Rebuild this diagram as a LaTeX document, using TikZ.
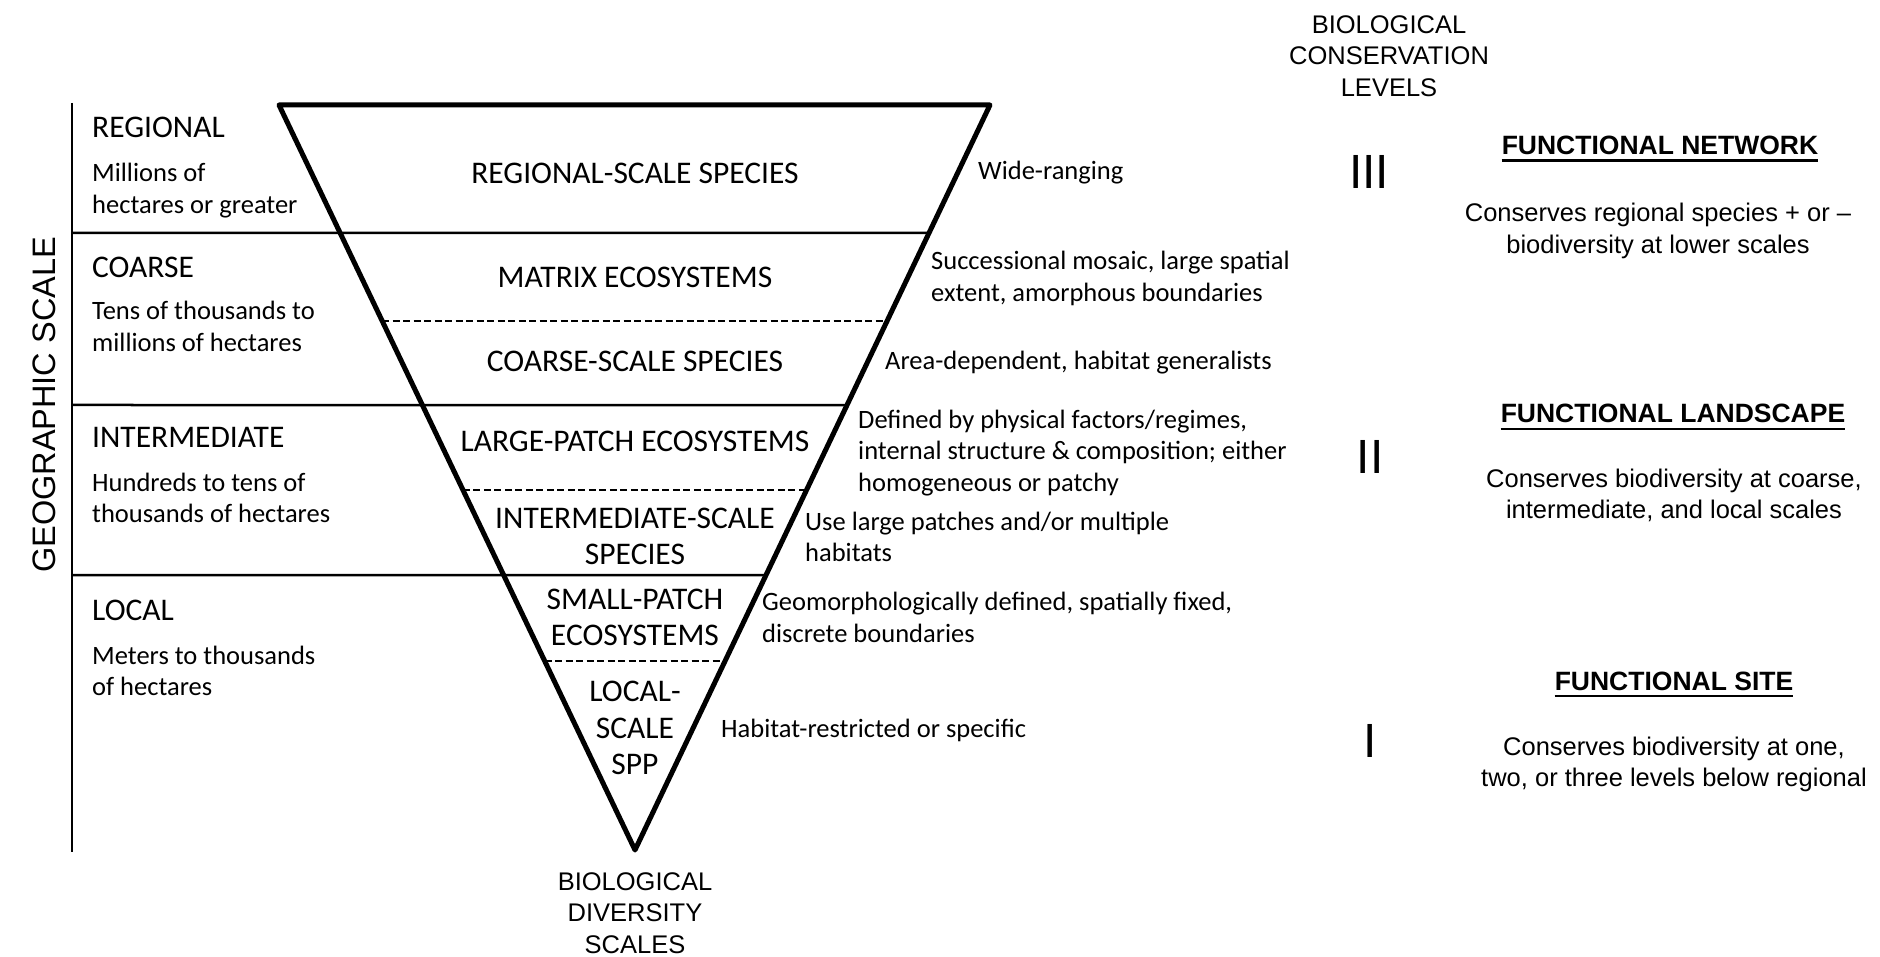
\documentclass[tikz,border=0pt]{standalone}
\usepackage{fontspec}
\setmainfont{Carlito}
\newfontfamily\arialfont{Liberation Sans}
\usetikzlibrary{calc,positioning}

\begin{document}
\begin{tikzpicture}[x=1pt, y=-1pt,
    head/.style = {font=\fontsize{31.5}{36.5}\selectfont, inner sep=0, anchor=base west},
    sub/.style = {font=\fontsize{26.5}{31.5}\selectfont, inner sep=0, align=left, anchor=base west},
    band/.style = {font=\fontsize{31.5}{36.5}\selectfont, inner sep=0, align=center, anchor=base},
    desc/.style = {font=\fontsize{26.5}{31.5}\selectfont, inner sep=0, align=left, anchor=base west},
    ttl/.style = {font=\arialfont\fontsize{25.5}{31.5}\selectfont, inner sep=0, align=center, anchor=base},
    lvl/.style = {font=\arialfont\bfseries\fontsize{26.5}{31.5}\selectfont, inner sep=0, anchor=base},
    num/.style = {font=\arialfont\fontsize{48}{48}\selectfont, inner sep=0, anchor=base},
    rim/.style = {line width=5pt, line join=round},
    sep/.style = {line width=2.5pt},
    subsep/.style = {line width=2.3pt, dash pattern=on 7pt off 3.5pt}]

    \useasboundingbox (0,0) rectangle (1880,957);

    \coordinate (tl) at (279,105);
    \coordinate (tr) at (990,105);
    \coordinate (apex) at (635,850);
    \coordinate (axtop) at (72,103);
    \coordinate (axbot) at (72,852);
    \coordinate (a1) at (72,233);
    \coordinate (a2) at (72,405);
    \coordinate (a3) at (72,575);
    \coordinate (r1) at ($(tr)!.1718!(apex)$);
    \coordinate (r2) at ($(tr)!.4027!(apex)$);
    \coordinate (r3) at ($(tr)!.6309!(apex)$);
    \coordinate (dl1) at ($(tl)!.2899!(apex)$);
    \coordinate (dr1) at ($(tr)!.2899!(apex)$);
    \coordinate (dl2) at ($(tl)!.5168!(apex)$);
    \coordinate (dr2) at ($(tr)!.5168!(apex)$);
    \coordinate (dl3) at ($(tl)!.7463!(apex)$);
    \coordinate (dr3) at ($(tr)!.7463!(apex)$);

    \draw[line width=2.7pt] (axtop) -- (axbot);
    \draw[sep] (a1) -- (r1);
    \draw[sep] (a2) -- (r2);
    \draw[sep] (a3) -- (r3);
    \draw[subsep] (dl1) -- (dr1);
    \draw[subsep] (dl2) -- (dr2);
    \draw[subsep] (dl3) -- (dr3);
    \draw[rim] (tl) -- (tr) -- (apex) -- cycle;

    \node[rotate=90, inner sep=0, font=\arialfont\fontsize{32.5}{40}\selectfont] (geo) at (44,405) {GEOGRAPHIC SCALE};

    \node[head] (reg) at (92,138) {REGIONAL};
    \node[sub] (regtxt) at (92,213.5) {Millions of\\hectares or greater};
    \node[head] (coa) at (92,278) {COARSE};
    \node[sub] (coatxt) at (92,351.5) {Tens of thousands to\\millions of hectares};
    \node[head] (inter) at (92,447) {INTERMEDIATE};
    \node[sub] (intertxt) at (92,522.5) {Hundreds to tens of\\thousands of hectares};
    \node[head] (loc) at (92,620) {LOCAL};
    \node[sub] (loctxt) at (92,695.5) {Meters to thousands\\of hectares};

    \node[band] (rss) at (635,184) {REGIONAL-SCALE SPECIES};
    \node[band] (mat) at (635,288) {MATRIX ECOSYSTEMS};
    \node[band] (css) at (635,372) {COARSE-SCALE SPECIES};
    \node[band] (lpe) at (635,452) {LARGE-PATCH ECOSYSTEMS};
    \node[band] (iss) at (635,564.5) {INTERMEDIATE-SCALE\\SPECIES};
    \node[band] (spe) at (635,645.5) {SMALL-PATCH\\ECOSYSTEMS};
    \node[band] (lss) at (635,774.5) {LOCAL-\\SCALE\\SPP};

    \node[desc] (d1) at (978,180) {Wide-ranging};
    \node[desc] (d2) at (931,301.5) {Successional mosaic, large spatial\\extent, amorphous boundaries};
    \node[desc] (d3) at (885,370) {Area-dependent, habitat generalists};
    \node[desc] (d4) at (858,491) {Defined by physical factors/regimes,\\internal structure \& composition; either\\homogeneous or patchy};
    \node[desc] (d5) at (805,561.5) {Use large patches and/or multiple\\habitats};
    \node[desc] (d6) at (762,642) {Geomorphologically defined, spatially fixed,\\discrete boundaries};
    \node[desc] (d7) at (721,737) {Habitat-restricted or specific};

    \node[ttl] (bds) at (635,953) {BIOLOGICAL\\DIVERSITY\\SCALES};
    \node[ttl] (bcl) at (1389,96.5) {BIOLOGICAL\\CONSERVATION\\LEVELS};

    \node[num] (n3) at (1369,189) {III};
    \node[num] (n2) at (1370,473) {II};
    \node[num] (n1) at (1370,757) {I};

    \node[lvl] (fnet) at (1660,154.5) {FUNCTIONAL NETWORK};
    \draw[line width=2.3pt] ([yshift=-6pt]fnet.base west) -- ([yshift=-6pt]fnet.base east);
    \node[ttl] (fnettxt) at (1658,253.5) {Conserves regional species + or –\\biodiversity at lower scales};
    \node[lvl] (flan) at (1673,423) {FUNCTIONAL LANDSCAPE};
    \draw[line width=2.3pt] ([yshift=-6pt]flan.base west) -- ([yshift=-6pt]flan.base east);
    \node[ttl] (flantxt) at (1674,518.5) {Conserves biodiversity at coarse,\\intermediate, and local scales};
    \node[lvl] (fsit) at (1674,690) {FUNCTIONAL SITE};
    \draw[line width=2.3pt] ([yshift=-6pt]fsit.base west) -- ([yshift=-6pt]fsit.base east);
    \node[ttl] (fsittxt) at (1674,786.5) {Conserves biodiversity at one,\\two, or three levels below regional};

\end{tikzpicture}
\end{document}
